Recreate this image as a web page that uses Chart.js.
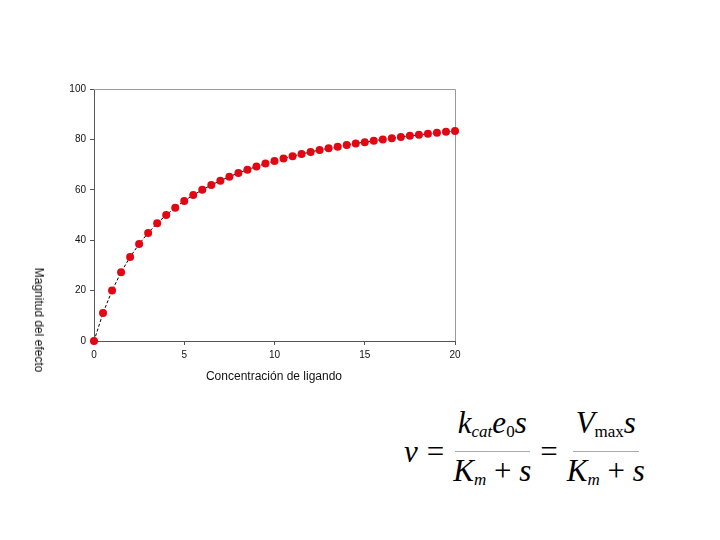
<!DOCTYPE html>
<html>
<head>
<meta charset="utf-8">
<script src="https://cdn.jsdelivr.net/npm/chart.js@4"></script>
<style>
  body { margin: 0; background: #fff; width: 720px; height: 540px; position: relative; overflow: hidden; }
  #wrap { position: absolute; left: 0; top: 0; width: 720px; height: 400px; }
  .lbl { position: absolute; font-family: "Liberation Sans", Arial, sans-serif; font-size: 12px; color: #111; white-space: nowrap; }
  #xTitle { left: 274px; top: 369px; transform: translateX(-50%); }
  #yTitle { left: 39px; top: 320px; transform: translate(-50%, -50%) rotate(90deg); }
  #formula { position: absolute; left: 404px; top: 406px; font-family: "Liberation Serif", "Times New Roman", serif; font-style: italic; font-size: 31px; color: #000; display: flex; align-items: center; }
  #formula .op { font-style: normal; margin: 0 9px; }
  .frac { display: inline-flex; flex-direction: column; align-items: center; }
  .frac .num { border-bottom: 1px solid #aaa; padding: 0 3px 2px; line-height: 34px; }
  .frac .den { padding-top: 2px; line-height: 34px; }
  sub { font-size: 17px; vertical-align: -4px; }
  .up { font-style: normal; }
</style>
</head>
<body>
<div id="wrap"><canvas id="chart"></canvas></div>
<div class="lbl" id="xTitle">Concentración de ligando</div>
<div class="lbl" id="yTitle">Magnitud del efecto</div>
<div id="formula">
  <span>v</span><span class="op">=</span>
  <span class="frac"><span class="num">k<sub>cat</sub>e<sub class="up">0</sub>s</span><span class="den">K<sub>m</sub> <span class="up">+</span> s</span></span>
  <span class="op">=</span>
  <span class="frac"><span class="num">V<sub class="up">max</sub>s</span><span class="den">K<sub>m</sub> <span class="up">+</span> s</span></span>
</div>
<script>
const concentracion = [0, 0.5, 1, 1.5, 2, 2.5, 3, 3.5, 4, 4.5, 5, 5.5, 6, 6.5, 7, 7.5, 8, 8.5, 9, 9.5, 10,
  10.5, 11, 11.5, 12, 12.5, 13, 13.5, 14, 14.5, 15, 15.5, 16, 16.5, 17, 17.5, 18, 18.5, 19, 19.5, 20];
const efecto = [0, 11.1, 20, 27.3, 33.3, 38.5, 42.9, 46.7, 50, 52.9, 55.6, 57.9, 60, 61.9, 63.6, 65.2, 66.7, 68, 69.2, 70.4, 71.4,
  72.4, 73.3, 74.2, 75, 75.8, 76.5, 77.1, 77.8, 78.4, 78.9, 79.5, 80, 80.5, 81, 81.4, 81.8, 82.2, 82.6, 83, 83.3];
const xTicks = [0, 5, 10, 15, 20];
const yTicks = [0, 20, 40, 60, 80, 100];

const tickFont = { family: '"Liberation Sans", Arial, sans-serif', size: 10 };

// light grey frame on top/right, like the original plot box
const frame = {
  id: 'frame',
  beforeDatasetsDraw(chart) {
    const { ctx, chartArea: a } = chart;
    ctx.save();
    ctx.strokeStyle = '#9a9a9a';
    ctx.lineWidth = 1;
    ctx.beginPath();
    ctx.moveTo(a.left, a.top + 0.5);
    ctx.lineTo(a.right + 0.5, a.top + 0.5);
    ctx.lineTo(a.right + 0.5, a.bottom);
    ctx.stroke();
    ctx.restore();
  }
};

new Chart(document.getElementById('chart'), {
  type: 'line',
  data: {
    datasets: [{
      data: concentracion.map((x, i) => ({ x, y: efecto[i] })),
      borderColor: '#000',
      borderWidth: 1,
      borderDash: [3, 2],
      pointRadius: 4,
      pointBackgroundColor: '#e30613',
      pointBorderColor: '#e30613',
      pointBorderWidth: 0,
      tension: 0,
      clip: false
    }]
  },
  options: {
    responsive: true,
    maintainAspectRatio: false,
    animation: false,
    layout: { padding: { left: 0, top: 89, right: 265, bottom: 29 } },
    plugins: { legend: { display: false }, tooltip: { enabled: false } },
    scales: {
      x: {
        type: 'linear', min: 0, max: 20,
        afterBuildTicks: s => { s.ticks = xTicks.map(v => ({ value: v })); },
        afterFit: s => { s.height = 30; },
        border: { color: '#555', width: 1 },
        grid: { drawOnChartArea: false, tickLength: 4, tickColor: '#555' },
        ticks: { font: tickFont, color: '#111', padding: 4, maxRotation: 0 }
      },
      y: {
        min: 0, max: 100,
        afterBuildTicks: s => { s.ticks = yTicks.map(v => ({ value: v })); },
        afterFit: s => { s.width = 94; },
        border: { color: '#555', width: 1 },
        grid: { drawOnChartArea: false, tickLength: 4, tickColor: '#555' },
        ticks: { font: tickFont, color: '#111', padding: 4 }
      }
    }
  },
  plugins: [frame]
});
</script>
</body>
</html>
